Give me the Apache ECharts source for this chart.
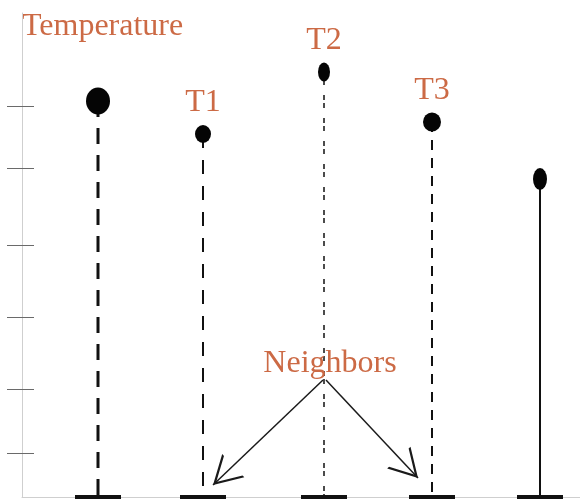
<!DOCTYPE html>
<html>
<head>
<meta charset="utf-8">
<style>
  html, body { margin: 0; padding: 0; background: #fff; }
  #chart { width: 580px; height: 501px; }
</style>
<script src="https://cdn.jsdelivr.net/npm/echarts@6/dist/echarts.min.js"></script>
</head>
<body>
<div id="chart"></div>
<script>
// stem positions (x) and temperature readings (y), same units as the axes
const stemX = [76, 181, 302, 410, 518]
const stemTemp = [396, 363, 425, 375, 318]
const stemNames = ['', 'T1', 'T2', 'T3', '']
// y axis tick values
const yTicks = [44, 108, 180, 252, 329, 391]
// "Neighbors" label and the two arrows pointing at it
const neighborsAt = [308, 133]
const arrowFrom = [[301, 117], [304, 117]]
const arrowTo = [[191, 12], [396, 19]]

const orange = '#cc6a45'
const serif = '"Liberation Serif", "DejaVu Serif", serif'
// drawing style per stem
const stemLook = [
  { width: 3, dash: [16, 11] },
  { width: 2, dash: [14, 12] },
  { width: 1.5, dash: [5, 3, 5, 10] },
  { width: 2, dash: [10, 8] },
  { width: 2, dash: null }
]
const dotSize = [[24, 27], [16, 18], [12, 19], [18, 19], [14, 22]]

const chart = echarts.init(document.getElementById('chart'))

const option = {
  backgroundColor: '#fff',
  animation: false,
  grid: {
    left: 22,
    right: 0,
    top: 13,
    bottom: 4
  },
  xAxis: {
    type: 'value',
    min: 0,
    max: 558,
    splitLine: { show: false },
    axisLabel: { show: false },
    axisTick: { show: false },
    axisLine: {
      onZero: false,
      lineStyle: { color: '#cfcfcf', width: 1 }
    }
  },
  yAxis: [{
    type: 'value',
    min: 0,
    max: 484,
    name: 'Temperature',
    nameLocation: 'end',
    nameGap: -14,
    nameTextStyle: {
      color: orange,
      fontFamily: serif,
      fontSize: 32,
      align: 'left',
      verticalAlign: 'middle'
    },
    splitLine: { show: false },
    axisLabel: { show: false },
    axisLine: {
      show: true,
      lineStyle: { color: '#cfcfcf', width: 1 }
    },
    axisTick: {
      show: true,
      length: 15,
      customValues: yTicks,
      lineStyle: { color: '#6a6a6a', width: 1 }
    }
  }, {
    type: 'value',
    min: 0,
    max: 484,
    position: 'left',
    splitLine: { show: false },
    axisLabel: { show: false },
    axisLine: { show: false },
    axisTick: {
      show: true,
      inside: true,
      length: 12,
      customValues: yTicks,
      lineStyle: { color: '#6a6a6a', width: 1 }
    }
  }],
  series: [{
    // stems and their base bars
    type: 'custom',
    silent: true,
    data: stemX.map((x, i) => [x, stemTemp[i]]),
    renderItem: (params, api) => {
      const look = stemLook[params.dataIndex]
      const top = api.coord([api.value(0), api.value(1)])
      const base = api.coord([api.value(0), 0])
      return {
        type: 'group',
        children: [{
          type: 'line',
          shape: { x1: top[0], y1: top[1], x2: base[0], y2: base[1] },
          style: {
            stroke: '#111',
            lineWidth: look.width,
            lineDash: look.dash
          }
        }, {
          type: 'rect',
          shape: { x: base[0] - 23, y: base[1] - 2, width: 46, height: 4 },
          style: { fill: '#111' }
        }]
      }
    }
  }, {
    // temperature dots
    type: 'scatter',
    silent: true,
    symbol: 'circle',
    symbolSize: (val, params) => dotSize[params.dataIndex],
    itemStyle: { color: '#050505', opacity: 1 },
    data: stemX.map((x, i) => ({ name: stemNames[i], value: [x, stemTemp[i]] })),
    label: {
      show: true,
      position: 'top',
      distance: 6,
      formatter: '{b}',
      color: orange,
      fontFamily: serif,
      fontSize: 32
    }
  }, {
    // "Neighbors" annotation with arrows
    type: 'scatter',
    silent: true,
    symbolSize: 0,
    itemStyle: { opacity: 1 },
    data: [{ name: 'Neighbors', value: neighborsAt }],
    label: {
      show: true,
      position: 'inside',
      formatter: '{b}',
      color: orange,
      fontFamily: serif,
      fontSize: 32
    },
    markLine: {
      silent: true,
      symbol: ['none', 'path://M5,0 L5.01,0 L5,0.01 Z M5,10 L10,20 L9.2,20 L5,11.6 L0.8,20 L0,20 Z'],
      symbolSize: [32, 56],
      label: { show: false },
      lineStyle: { color: '#1a1a1a', width: 1.5, type: 'solid' },
      data: arrowFrom.map((p, i) => [{ coord: p }, { coord: arrowTo[i] }])
    }
  }]
}

chart.setOption(option)
</script>
</body>
</html>
